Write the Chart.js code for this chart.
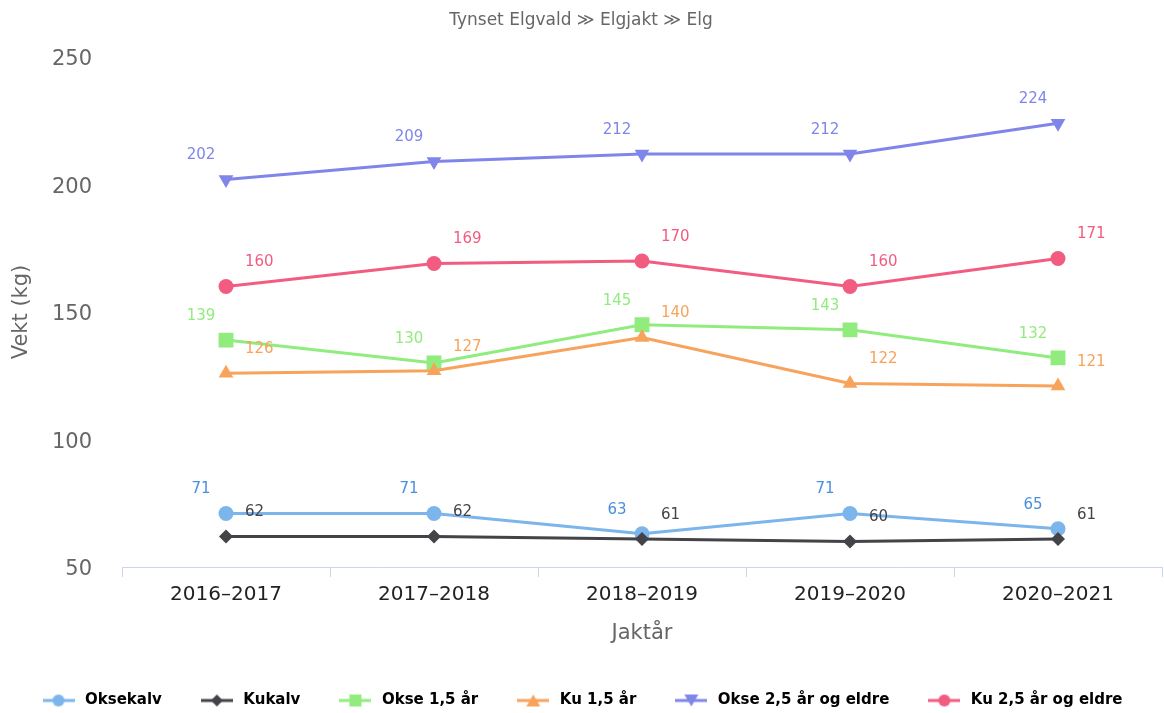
<!DOCTYPE html>
<html>
<head>
<meta charset="utf-8">
<script src="https://cdn.jsdelivr.net/npm/chart.js@4"></script>
<style>
  html, body { margin: 0; padding: 0; background: #fff; overflow: hidden; }
  #wrap { width: 1164px; height: 713px; }
  canvas { display: block; }
</style>
</head>
<body>
<div id="wrap"><canvas id="weightChart"></canvas></div>
<script>
// Slaktevekt per jaktår
const seasons = ['2016–2017', '2017–2018', '2018–2019', '2019–2020', '2020–2021'];
const seriesNames = ['Oksekalv', 'Kukalv', 'Okse 1,5 år', 'Ku 1,5 år', 'Okse 2,5 år og eldre', 'Ku 2,5 år og eldre'];
const oksekalv = [71, 71, 63, 71, 65];
const kukalv = [62, 62, 61, 60, 61];
const okse15 = [139, 130, 145, 143, 132];
const ku15 = [126, 127, 140, 122, 121];
const okse25 = [202, 209, 212, 212, 224];
const ku25 = [160, 169, 170, 160, 171];
const yTicks = [50, 100, 150, 200, 250];

const colors = ['#7cb5ec', '#434348', '#90ed7d', '#f7a35c', '#8085e9', '#f15c80'];
const labelColors = ['#4a8fdc', '#434348', '#90ed7d', '#f7a35c', '#8085e9', '#f15c80'];
const markers = ['circle', 'rectRot', 'rect', 'triangle', 'triangle', 'circle'];
const markerRot = [0, 0, 0, 0, 180, 0];
const markerSize = [7.5, 7, 10.5, 8.5, 8.5, 7.5];

// small legend icons: line with the marker in the middle
function legendIcon(color, style, rot) {
    const c = document.createElement('canvas');
    c.width = 32; c.height = 16;
    const g = c.getContext('2d');
    g.strokeStyle = color;
    g.fillStyle = color;
    g.lineWidth = 3;
    g.beginPath(); g.moveTo(0, 8); g.lineTo(32, 8); g.stroke();
    g.beginPath();
    if (style === 'circle') {
        g.arc(16, 8, 6, 0, Math.PI * 2);
    } else if (style === 'rect') {
        g.rect(10, 2, 12, 12);
    } else if (style === 'rectRot') {
        g.moveTo(16, 2); g.lineTo(22, 8); g.lineTo(16, 14); g.lineTo(10, 8);
    } else if (rot === 180) {
        g.moveTo(9, 2); g.lineTo(23, 2); g.lineTo(16, 14);
    } else {
        g.moveTo(16, 2); g.lineTo(23, 14); g.lineTo(9, 14);
    }
    g.closePath(); g.fill();
    return c;
}

const valueLabels = {
    id: 'valueLabels',
    afterDatasetsDraw(chart) {
        const ctx = chart.ctx;
        ctx.save();
        ctx.font = '15px "DejaVu Sans"';
        ctx.textBaseline = 'middle';
        chart.data.datasets.forEach((ds, i) => {
            const meta = chart.getDatasetMeta(i);
            if (meta.hidden) return;
            ctx.fillStyle = labelColors[i];
            meta.data.forEach((pt, j) => {
                const left = i % 2 === 0;
                ctx.textAlign = left ? 'center' : 'left';
                ctx.fillText(String(ds.data[j]), left ? pt.x - 25 : pt.x + 19, pt.y - 24);
            });
        });
        ctx.restore();
    }
};

const allSeries = [oksekalv, kukalv, okse15, ku15, okse25, ku25];

new Chart(document.getElementById('weightChart'), {
    type: 'line',
    data: {
        labels: seasons,
        datasets: allSeries.map((vals, i) => ({
            label: seriesNames[i],
            data: vals,
            borderColor: colors[i],
            backgroundColor: colors[i],
            pointBackgroundColor: colors[i],
            pointBorderWidth: 0,
            pointStyle: markers[i],
            pointRotation: markerRot[i],
            pointRadius: markerSize[i],
            pointHoverRadius: markerSize[i],
            borderWidth: 3,
            tension: 0,
            order: allSeries.length - i
        }))
    },
    options: {
        responsive: true,
        maintainAspectRatio: false,
        animation: false,
        layout: { autoPadding: false, padding: { left: 0, right: 2, top: 0, bottom: -5 } },
        plugins: {
            title: {
                display: true,
                text: 'Tynset Elgvald ≫ Elgjakt ≫ Elg',
                color: '#666666',
                font: { family: '"DejaVu Sans"', size: 17, weight: 'normal' },
                padding: { top: 10, bottom: 26.6 }
            },
            legend: {
                position: 'bottom',
                labels: {
                    usePointStyle: true,
                    pointStyleWidth: 38,
                    padding: 36,
                    color: '#333333',
                    font: { family: '"DejaVu Sans"', size: 15, weight: 'bold' },
                    generateLabels(chart) {
                        return chart.data.datasets.map((ds, i) => ({
                            text: ds.label,
                            fillStyle: colors[i],
                            strokeStyle: colors[i],
                            lineWidth: 0,
                            pointStyle: legendIcon(colors[i], markers[i], markerRot[i]),
                            hidden: !chart.isDatasetVisible(i),
                            datasetIndex: i
                        }));
                    }
                }
            },
            tooltip: { enabled: false }
        },
        scales: {
            x: {
                offset: true,
                grid: {
                    offset: true,
                    drawOnChartArea: false,
                    drawTicks: true,
                    tickLength: 10,
                    color: '#ccd6eb'
                },
                border: { color: '#ccd6eb', width: 1 },
                ticks: {
                    color: '#222222',
                    padding: 6,
                    font: { family: '"DejaVu Sans"', size: 20 }
                },
                title: {
                    display: true,
                    text: 'Jaktår',
                    color: '#666666',
                    font: { family: '"DejaVu Sans"', size: 21 },
                    padding: { top: 0, bottom: 10.4 }
                },
                afterFit(scale) {
                    scale.height = 90;
                    scale.paddingLeft = 0;
                    scale.paddingRight = 0;
                }
            },
            y: {
                min: 50,
                max: 250,
                afterBuildTicks(scale) { scale.ticks = yTicks.map(v => ({ value: v })); },
                grid: { display: false, drawTicks: false },
                border: { display: false },
                ticks: {
                    color: '#666666',
                    padding: 30,
                    font: { family: '"DejaVu Sans"', size: 21, lineHeight: '6px' },
                    // empty first line nudges the number down onto its value
                    callback: v => ['', String(v)]
                },
                title: {
                    display: true,
                    text: 'Vekt (kg)',
                    color: '#666666',
                    font: { family: '"DejaVu Sans"', size: 21 },
                    padding: { top: 9, bottom: 0 }
                },
                afterFit(scale) { scale.width = 122; }
            }
        }
    },
    plugins: [valueLabels]
});
</script>
</body>
</html>
